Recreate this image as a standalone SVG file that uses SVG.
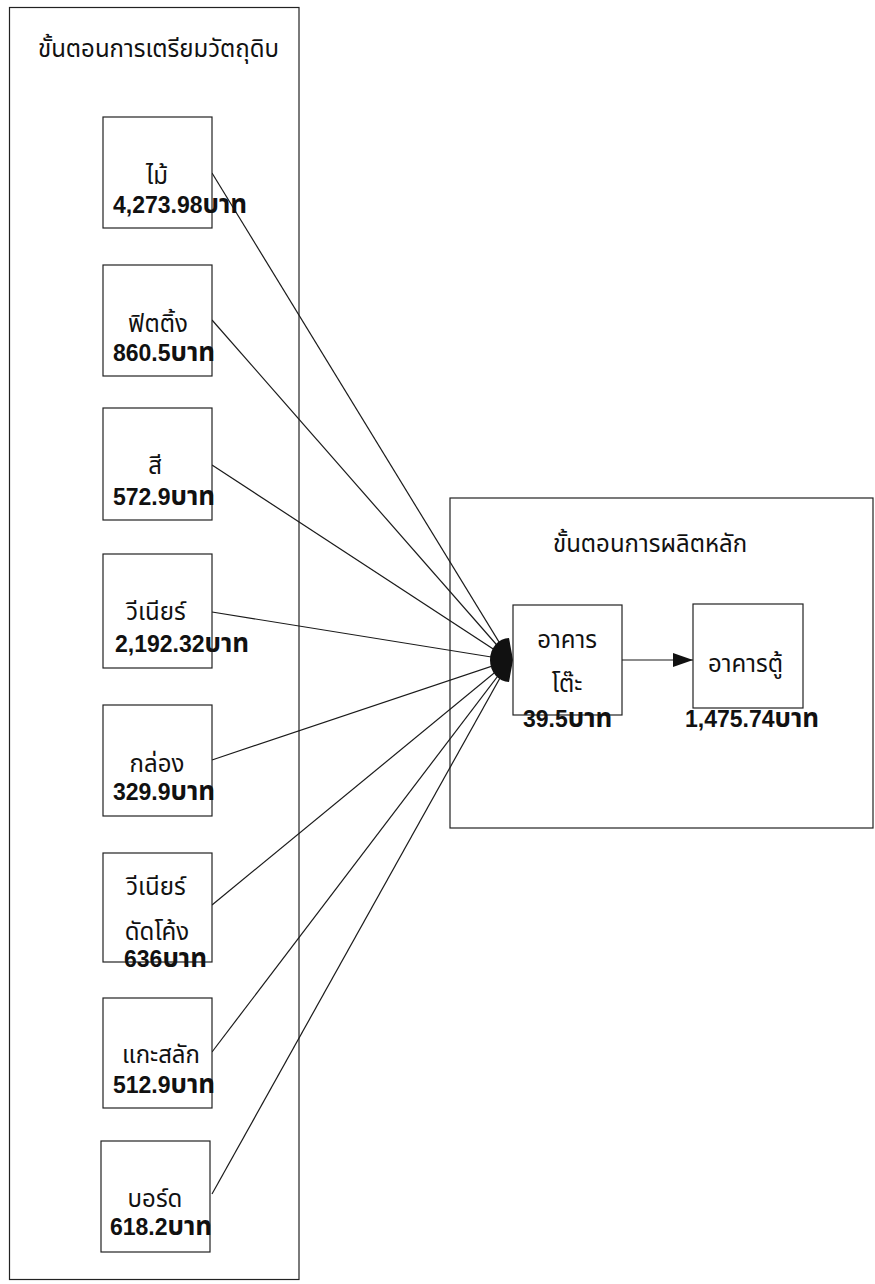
<svg xmlns="http://www.w3.org/2000/svg" width="875" height="1284" viewBox="0 0 875 1284">
<style>
.frame{fill:none;stroke:#222;stroke-width:1.2}
.box{fill:#fff;stroke:#222;stroke-width:1.2}
.conn{fill:none;stroke:#1a1a1a;stroke-width:1.2}
text{font-family:"Liberation Sans","Noto Sans Thai","Noto Sans","DejaVu Sans",sans-serif;fill:#111;font-size:24px}
.name{text-anchor:middle}
.num{font-weight:bold;font-size:23px}
.baht{font-size:26px}
.title{font-size:24px}
</style>
<defs>
<marker id="arrow" viewBox="0 0 20 14" refX="20" refY="7" markerWidth="20" markerHeight="14" markerUnits="userSpaceOnUse" orient="auto">
<path d="M0,0 L20,7 L0,14 Z" fill="#111"/>
</marker>
</defs>
<rect width="875" height="1284" fill="#fff"/>

<g id="group-prep">
<rect class="frame" x="9.5" y="7.5" width="289.5" height="1272"/>
<text class="title" x="38" y="57">ขั้นตอนการเตรียมวัตถุดิบ</text>
</g>
<g id="group-main">
<rect class="frame" x="450" y="498" width="423" height="330"/>
<text class="title" x="553" y="552">ขั้นตอนการผลิตหลัก</text>
</g>

<g id="connectors">
<line class="conn" x1="212" y1="173" x2="510" y2="660"/>
<line class="conn" x1="212" y1="320" x2="510" y2="660"/>
<line class="conn" x1="212" y1="465" x2="510" y2="660"/>
<line class="conn" x1="212" y1="612" x2="510" y2="660"/>
<line class="conn" x1="212" y1="760" x2="510" y2="660"/>
<line class="conn" x1="212" y1="905" x2="510" y2="660"/>
<line class="conn" x1="212" y1="1052" x2="510" y2="660"/>
<line class="conn" x1="212" y1="1194" x2="510" y2="660"/>
<path d="M509,638 A19,22 0 0 0 509,682 L513,660 Z" fill="#111"/>
<line class="conn" x1="622" y1="660" x2="693" y2="660" marker-end="url(#arrow)"/>
</g>

<g id="node-wood">
<rect class="box" x="103" y="117" width="109" height="111"/>
<text class="name" x="157" y="184">ไม้</text>
<text class="num" x="113" y="213">4,273.98<tspan class="baht">บาท</tspan></text>
</g>
<g id="node-fitting">
<rect class="box" x="103" y="265" width="109" height="111"/>
<text class="name" x="158" y="332">ฟิตติ้ง</text>
<text class="num" x="113" y="361">860.5<tspan class="baht">บาท</tspan></text>
</g>
<g id="node-paint">
<rect class="box" x="103" y="408" width="109" height="112"/>
<text class="name" x="155" y="474">สี</text>
<text class="num" x="113" y="505">572.9<tspan class="baht">บาท</tspan></text>
</g>
<g id="node-veneer">
<rect class="box" x="103" y="554" width="109" height="114"/>
<text class="name" x="156" y="620">วีเนียร์</text>
<text class="num" x="115" y="652">2,192.32<tspan class="baht">บาท</tspan></text>
</g>
<g id="node-box">
<rect class="box" x="103" y="705" width="109" height="111"/>
<text class="name" x="157" y="772">กล่อง</text>
<text class="num" x="113" y="800">329.9<tspan class="baht">บาท</tspan></text>
</g>
<g id="node-veneer-curved">
<rect class="box" x="103" y="853" width="109" height="109"/>
<text class="name" x="156" y="895">วีเนียร์</text>
<text class="name" x="157" y="940">ดัดโค้ง</text>
<text class="num" x="124" y="967">636<tspan class="baht">บาท</tspan></text>
</g>
<g id="node-carving">
<rect class="box" x="103" y="998" width="109" height="110"/>
<text class="name" x="161" y="1063">แกะสลัก</text>
<text class="num" x="113" y="1093">512.9<tspan class="baht">บาท</tspan></text>
</g>
<g id="node-board">
<rect class="box" x="101" y="1141" width="109" height="111"/>
<text class="name" x="155" y="1207">บอร์ด</text>
<text class="num" x="110" y="1235">618.2<tspan class="baht">บาท</tspan></text>
</g>

<g id="node-table">
<rect class="box" x="513" y="605" width="109" height="110"/>
<text class="name" x="567" y="648">อาคาร</text>
<text class="name" x="567" y="692">โต๊ะ</text>
<text class="num" x="523" y="727">39.5<tspan class="baht">บาท</tspan></text>
</g>
<g id="node-cabinet">
<rect class="box" x="693" y="604" width="110" height="104"/>
<text x="708" y="672">อาคารตู้</text>
<text class="num" x="685" y="727">1,475.74<tspan class="baht">บาท</tspan></text>
</g>
</svg>
